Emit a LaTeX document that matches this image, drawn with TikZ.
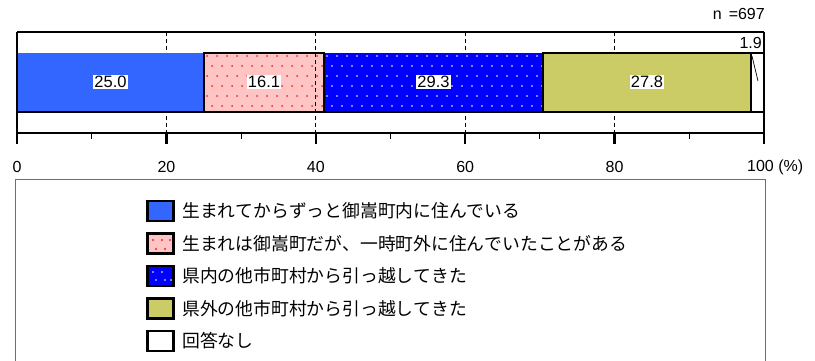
\documentclass[tikz,border=0pt]{standalone}
\usepackage{fontspec}
\setmainfont{Liberation Sans}
\newfontfamily\jpfont[Kerning=Off]{Noto Sans CJK JP}
\definecolor{segA}{RGB}{51,102,255}
\definecolor{segB}{RGB}{255,196,196}
\definecolor{segC}{RGB}{0,0,255}
\definecolor{segD}{RGB}{204,204,102}
\definecolor{dotB}{RGB}{240,40,40}
\definecolor{legframe}{RGB}{110,110,110}
\begin{document}
\begin{tikzpicture}[x=1pt,y=-1pt,
  vallab/.style={fill=white,inner sep=1pt,font=\fontsize{16.5}{16.5}\selectfont},
  ticklab/.style={inner sep=0pt,font=\fontsize{16}{16}\selectfont},
  legtext/.style={anchor=west,inner sep=0pt,font=\jpfont\fontsize{17.8}{17.8}\selectfont},
  swatch/.style={draw=black,line width=2.5pt,minimum width=26pt,minimum height=20pt,inner sep=0pt},
  segborder/.style={draw=black,line width=1.5pt},
  grid/.style={dashed,line width=0.7pt,dash pattern=on 4pt off 3pt}]
\useasboundingbox (0,0) rectangle (815,361);

% gridlines (behind bars)
\foreach \v in {20,40,60,80}
  \draw[grid] ({17+7.47*\v},32) -- ({17+7.47*\v},133);

% segments
\fill[segA] (17,53) rectangle (204,112);
\fill[segB] (204,53) rectangle (324,112);
\begin{scope}
  \clip (205,54) rectangle (323,111);
  \foreach \r in {0,...,5}{
    \pgfmathsetmacro{\yy}{56+10*\r}
    \pgfmathsetmacro{\off}{mod(\r,2)*5}
    \foreach \c in {0,...,12}
      \fill[dotB] ({207+\off+10*\c},\yy) circle (1pt);
  }
\end{scope}
\draw[grid] ({17+7.47*40},53) -- ({17+7.47*40},112);
\fill[segC] (324,53) rectangle (543,112);
\begin{scope}
  \clip (325,54) rectangle (542,111);
  \foreach \r in {0,...,5}{
    \pgfmathsetmacro{\yy}{56+10*\r}
    \pgfmathsetmacro{\off}{mod(\r,2)*5}
    \foreach \c in {0,...,22}
      \fill[white] ({327+\off+10*\c},\yy) circle (0.9pt);
  }
\end{scope}
\fill[segD] (543,53) rectangle (751,112);
\fill[white] (751,53) rectangle (764,112);
\draw[segborder] (204,53) rectangle (324,112);
\draw[segborder] (543,53) rectangle (751,112);
\draw[segborder] (751,53) rectangle (764,112);
\draw[line width=2pt] (17,112) -- (764,112);

% value labels
\node[vallab] (l1) at (110.5,82) {25.0};
\node[vallab] (l2) at (264,82) {16.1};
\node[vallab] (l3) at (433.5,82) {29.3};
\node[vallab] (l4) at (647,82) {27.8};
\node[ticklab,anchor=east] (l5) at (762,43) {1.9};
\coordinate (k1) at (752,56);
\coordinate (k2) at (758,81);
\draw[line width=0.7pt] (k1) -- (k2);

% frame and axis
\draw[line width=1.5pt] (17,32) -- (764,32);
\draw[line width=2pt] (17,133) -- (764,133);
\draw[line width=2.5pt] (17,32) -- (17,144);
\draw[line width=2.5pt] (764,32) -- (764,144);
\foreach \v in {20,40,60,80}
  \draw[line width=2.5pt] ({17+7.47*\v},133) -- ({17+7.47*\v},144);
\foreach \v in {10,30,50,70,90}
  \draw[line width=1pt] ({17+7.47*\v},133) -- ({17+7.47*\v},139);

% tick labels
\node[ticklab] (t0) at (17,167) {0};
\node[ticklab] (t20) at (166.4,167) {20};
\node[ticklab] (t40) at (315.8,167) {40};
\node[ticklab] (t60) at (465.2,167) {60};
\node[ticklab] (t80) at (614.6,167) {80};
\node[ticklab,anchor=west] (t100) at (747,167) {100 (\%)};
\node[ticklab,anchor=east] (nn) at (765,14) {n \,=697};

% legend
\draw[legframe,line width=1pt] (15,362) -- (15,179) -- (765,179) -- (765,362);
\node[swatch,fill=segA] (s1) at (160.5,211) {};
\node[swatch,fill=segB] (s2) at (160.5,243.5) {};
\foreach \p in {(153,240),(162,240),(170,240),(156,249),(165,249)}
  \fill[dotB] \p circle (1.1pt);
\node[swatch,fill=segC] (s3) at (160.5,276) {};
\foreach \p in {(153,272),(162,272),(156,280),(165,280),(171,280)}
  \fill[white] \p circle (0.9pt);
\node[swatch,fill=segD] (s4) at (160.5,308.5) {};
\node[swatch,fill=white] (s5) at (160.5,341) {};
\node[legtext] (g1) at (182,211) {生まれてからずっと御嵩町内に住んでいる};
\node[legtext] (g2) at (182,243.5) {生まれは御嵩町だが、一時町外に住んでいたことがある};
\node[legtext] (g3) at (182,276) {県内の他市町村から引っ越してきた};
\node[legtext] (g4) at (182,308.5) {県外の他市町村から引っ越してきた};
\node[legtext] (g5) at (182,341) {回答なし};
\end{tikzpicture}
\end{document}
